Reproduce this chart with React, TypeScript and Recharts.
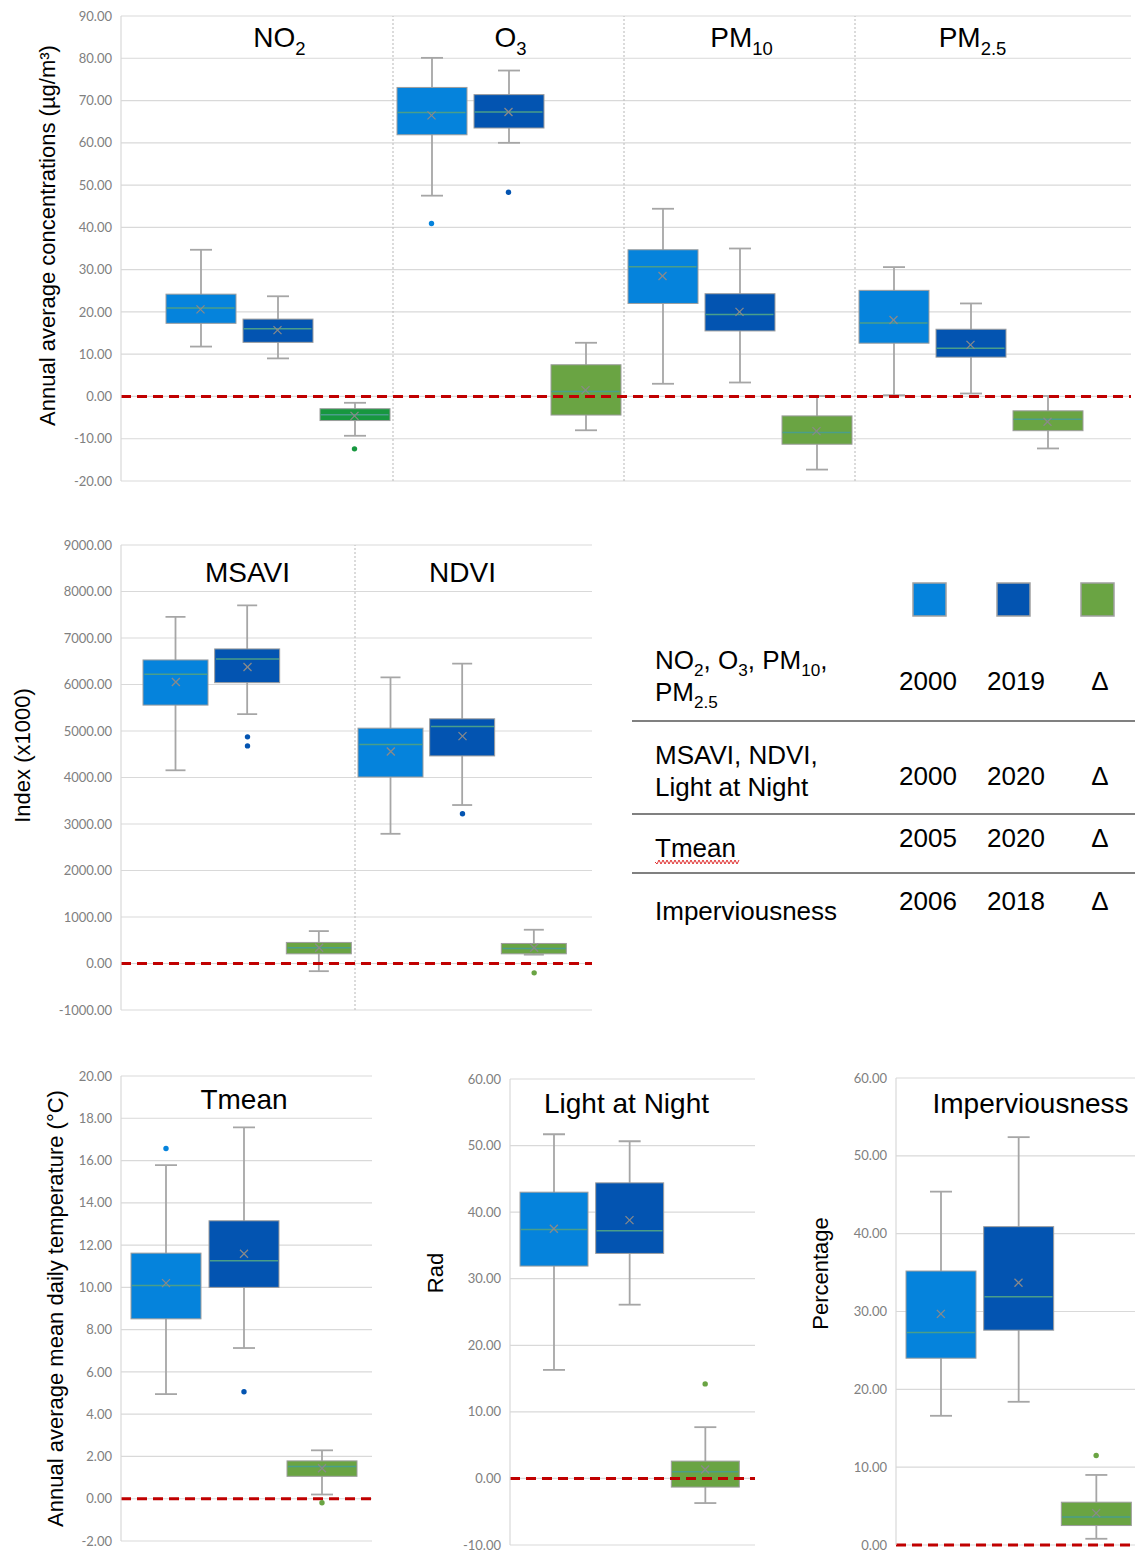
import React from 'react';
import { ComposedChart, Bar, Scatter, XAxis, YAxis, CartesianGrid, ReferenceLine } from 'recharts';

// ------------------------------------------------------------------
// DATA  (each box: [min, q1, median, q3, max, mean])
// ------------------------------------------------------------------
const periods = ['2000', '2019', 'Δ'];

const airTitles = ['NO_{2}', 'O_{3}', 'PM_{10}', 'PM_{2.5}'];
const no2Stats = [
  [11.8, 17.3, 20.9, 24.2, 34.7, 20.6],
  [9.0, 12.8, 16.0, 18.3, 23.7, 15.7],
  [-9.3, -5.7, -4.3, -2.9, -1.5, -4.6],
];
const o3Stats = [
  [47.5, 61.9, 67.2, 73.1, 80.1, 66.5],
  [60.0, 63.5, 67.3, 71.4, 77.1, 67.3],
  [-8.0, -4.4, 1.2, 7.5, 12.7, 1.5],
];
const pm10Stats = [
  [3.0, 22.0, 30.7, 34.7, 44.4, 28.5],
  [3.3, 15.5, 19.4, 24.3, 35.0, 20.0],
  [-17.3, -11.3, -8.5, -4.6, 0.1, -8.2],
];
const pm25Stats = [
  [0.3, 12.6, 17.4, 25.1, 30.6, 18.1],
  [0.7, 9.3, 11.4, 15.9, 22.0, 12.2],
  [-12.3, -8.1, -5.4, -3.4, 0.1, -6.0],
];
const no2Outliers = [[], [], [-12.4]];
const o3Outliers = [[40.9], [48.3], []];
const pm10Outliers = [[], [], []];
const pm25Outliers = [[], [], []];
const airTicks = [-20, -10, 0, 10, 20, 30, 40, 50, 60, 70, 80, 90];

const vegTitles = ['MSAVI', 'NDVI'];
const msaviStats = [
  [4155, 5557, 6218, 6528, 7455, 6053],
  [5363, 6039, 6549, 6765, 7700, 6377],
  [-165, 208, 338, 453, 697, 338],
];
const ndviStats = [
  [2789, 4011, 4709, 5061, 6154, 4558],
  [3408, 4464, 5097, 5262, 6449, 4889],
  [190, 208, 324, 431, 726, 338],
];
const msaviOutliers = [[], [4874, 4680], []];
const ndviOutliers = [[], [3221], [-201]];
const vegTicks = [-1000, 0, 1000, 2000, 3000, 4000, 5000, 6000, 7000, 8000, 9000];

const tmeanTitle = 'Tmean';
const tmeanStats = [
  [4.95, 8.51, 10.09, 11.62, 15.78, 10.2],
  [7.13, 10.0, 11.26, 13.15, 17.57, 11.59],
  [0.2, 1.06, 1.52, 1.79, 2.29, 1.44],
];
const tmeanOutliers = [[16.57], [5.06], [-0.19]];
const tmeanTicks = [-2, 0, 2, 4, 6, 8, 10, 12, 14, 16, 18, 20];

const lightTitle = 'Light at Night';
const lightStats = [
  [16.3, 31.9, 37.4, 43.0, 51.7, 37.5],
  [26.1, 33.8, 37.2, 44.4, 50.65, 38.8],
  [-3.7, -1.3, 1.0, 2.6, 7.7, 1.35],
];
const lightOutliers = [[], [], [14.2]];
const lightTicks = [-10, 0, 10, 20, 30, 40, 50, 60];

const impervTitle = 'Imperviousness';
const impervStats = [
  [16.6, 24.0, 27.3, 35.2, 45.4, 29.7],
  [18.4, 27.6, 31.9, 40.9, 52.4, 33.7],
  [0.8, 2.5, 3.6, 5.5, 9.0, 4.1],
];
const impervOutliers = [[], [], [11.5]];
const impervTicks = [0, 10, 20, 30, 40, 50, 60];

const airYLabel = 'Annual average concentrations (µg/m³)';
const vegYLabel = 'Index (x1000)';
const tmeanYLabel = 'Annual average mean daily temperature (°C)';
const lightYLabel = 'Rad';
const impervYLabel = 'Percentage';

const legendRowLabels = [
  ['NO_{2}, O_{3}, PM_{10},', 'PM_{2.5}'],
  ['MSAVI, NDVI,', 'Light at Night'],
  ['Tmean'],
  ['Imperviousness'],
];
const legendRowYears = [
  ['2000', '2019', 'Δ'],
  ['2000', '2020', 'Δ'],
  ['2005', '2020', 'Δ'],
  ['2006', '2018', 'Δ'],
];

// ------------------------------------------------------------------
// STYLE
// ------------------------------------------------------------------
const PERIOD_COLORS = ['#0583DC', '#0354B1', '#6AA443'];
const NO2_DELTA_COLOR = '#17973F';
const WHISKER = '#a6a6a6';
const GRID = '#d9d9d9';
const MEDIAN = '#4a9e8a';
const MEAN = '#8a8a8a';
const SANS = '"Liberation Sans", Arial, sans-serif';

function parseSegs(s: string) {
  const out: { t: string; sub: boolean }[] = [];
  const re = /_\{([^}]*)\}/g;
  let last = 0;
  let m: RegExpExecArray | null;
  while ((m = re.exec(s))) {
    if (m.index > last) out.push({ t: s.slice(last, m.index), sub: false });
    out.push({ t: m[1], sub: true });
    last = m.index + m[0].length;
  }
  if (last < s.length) out.push({ t: s.slice(last), sub: false });
  return out;
}

function RichTspans({ text, size }: { text: string; size: number }) {
  const segs = parseSegs(text);
  const shift = size * 0.27;
  let prevSub = false;
  return (
    <>
      {segs.map((sg, i) => {
        let dy = 0;
        if (sg.sub && !prevSub) dy = shift;
        if (!sg.sub && prevSub) dy = -shift;
        prevSub = sg.sub;
        return (
          <tspan key={i} dy={dy} fontSize={sg.sub ? size * 0.66 : size}>
            {sg.t}
          </tspan>
        );
      })}
    </>
  );
}

function AxisTitle(props: any) {
  const vb = props.viewBox || {};
  const cy = (vb.y ?? 0) + (vb.height ?? 0) / 2 + props.dyy;
  const cx = (vb.x ?? 0) + props.x0;
  return (
    <text
      x={cx}
      y={cy}
      transform={`rotate(-90 ${cx} ${cy})`}
      textAnchor="middle"
      dominantBaseline="central"
      fontSize={22}
      fontFamily={SANS}
      fill="#000"
    >
      {props.text}
    </text>
  );
}

function TitleText(props: any) {
  const vb = props.viewBox || {};
  const x = (vb.x ?? 0) + props.dxx;
  const y = (vb.y ?? 0) + props.dyy;
  return (
    <text x={x} y={y} textAnchor="middle" fontSize={28} fontFamily={SANS} fill="#000">
      <RichTspans text={props.text} size={28} />
    </text>
  );
}

function WhiskerShape(p: any) {
  const { x, y, width, height, cap } = p;
  if (![x, y, width, height].every((v) => Number.isFinite(v))) return <g />;
  const top = Math.min(y, y + height);
  const bot = Math.max(y, y + height);
  const cx = x + width / 2;
  return (
    <g>
      <line x1={cx} x2={cx} y1={top} y2={bot} stroke={WHISKER} strokeWidth={1.8} />
      <line x1={cx - cap / 2} x2={cx + cap / 2} y1={top} y2={top} stroke={WHISKER} strokeWidth={1.8} />
      <line x1={cx - cap / 2} x2={cx + cap / 2} y1={bot} y2={bot} stroke={WHISKER} strokeWidth={1.8} />
    </g>
  );
}

function BoxShape(p: any) {
  const { x, y, width, height } = p;
  if (![x, y, width, height].every((v) => Number.isFinite(v))) return <g />;
  const color = (p.payload && p.payload.color) || p.color;
  const top = Math.min(y, y + height);
  return (
    <rect x={x} y={top} width={width} height={Math.abs(height)} fill={color} stroke="#9d9d9d" strokeWidth={1} />
  );
}

function MedianShape(p: any) {
  const { cx, cy, half } = p;
  if (!Number.isFinite(cx) || !Number.isFinite(cy)) return <g />;
  return <line x1={cx - half + 1} x2={cx + half - 1} y1={cy} y2={cy} stroke={MEDIAN} strokeWidth={1.5} />;
}

function MeanShape(p: any) {
  const { cx, cy } = p;
  if (!Number.isFinite(cx) || !Number.isFinite(cy)) return <g />;
  const a = 4;
  return (
    <g stroke={MEAN} strokeWidth={1.3}>
      <line x1={cx - a} x2={cx + a} y1={cy - a} y2={cy + a} />
      <line x1={cx - a} x2={cx + a} y1={cy + a} y2={cy - a} />
    </g>
  );
}

function OutlierShape(p: any) {
  const { cx, cy, payload, k } = p;
  if (!payload || payload[k] == null || !Number.isFinite(cx) || !Number.isFinite(cy)) return <g />;
  return <circle cx={cx} cy={cy} r={2.7} fill={payload.color} />;
}

type Group = { title: string; stats: number[][]; outliers: number[][]; colors: string[] };

function BoxPanel(props: any) {
  const {
    groups, left, top, width, height, margin, yAxisWidth, domain, ticks,
    padLeft, padRight, barSize, capWidth, yLabel, yLabelX, yLabelDy, titleDy, titleDx = 0,
  } = props;
  const rows: any[] = [];
  (groups as Group[]).forEach((g, gi) => {
    g.stats.forEach((s, pi) => {
      const outs = g.outliers[pi] || [];
      rows.push({
        cat: `${gi}-${pi}`,
        whisk: [s[0], s[4]],
        box: [s[1], s[3]],
        median: s[2],
        mean: s[5],
        out0: outs.length > 0 ? outs[0] : null,
        out1: outs.length > 1 ? outs[1] : null,
        color: g.colors[pi],
      });
    });
  });
  const nPer = periods.length;
  const half = barSize / 2;
  return (
    <div style={{ position: 'absolute', left, top, width, height }}>
      <ComposedChart width={width} height={height} data={rows} margin={margin}>
        <CartesianGrid vertical={false} stroke={GRID} strokeWidth={1.2} />
        <XAxis dataKey="cat" hide padding={{ left: padLeft, right: padRight }} />
        <XAxis xAxisId="box" dataKey="cat" hide padding={{ left: padLeft, right: padRight }} />
        <YAxis
          type="number"
          domain={domain}
          ticks={ticks}
          interval={0}
          allowDataOverflow
          width={yAxisWidth}
          axisLine={{ stroke: GRID, strokeWidth: 1.2 }}
          tickLine={false}
          tickSize={0}
          tickMargin={9}
          tick={{ fill: '#808080', fontSize: 13, fontFamily: 'Lato, sans-serif' }}
          tickFormatter={(v: number) => Number(v).toFixed(2)}
          label={(lp: any) => <AxisTitle {...lp} text={yLabel} x0={yLabelX} dyy={yLabelDy} />}
        />
        {groups.slice(0, -1).map((_: Group, gi: number) => (
          <ReferenceLine
            key={'sep' + gi}
            x={`${gi}-${nPer - 1}`}
            position="end"
            stroke="#c4c4c4"
            strokeDasharray="2 2"
            strokeWidth={1.2}
          />
        ))}
        {groups.map((g: Group, gi: number) => (
          <ReferenceLine
            key={'title' + gi}
            x={`${gi}-1`}
            stroke="none"
            label={(lp: any) => <TitleText {...lp} text={g.title} dxx={titleDx} dyy={titleDy} />}
          />
        ))}
        <Bar
          dataKey="whisk"
          barSize={barSize}
          isAnimationActive={false}
          shape={(p: any) => <WhiskerShape {...p} cap={capWidth} />}
        />
        <Bar
          xAxisId="box"
          dataKey="box"
          barSize={barSize}
          isAnimationActive={false}
          shape={(p: any) => <BoxShape {...p} />}
        />
        <Scatter dataKey="median" isAnimationActive={false} shape={(p: any) => <MedianShape {...p} half={half} />} />
        <Scatter dataKey="mean" isAnimationActive={false} shape={(p: any) => <MeanShape {...p} />} />
        <Scatter dataKey="out0" isAnimationActive={false} shape={(p: any) => <OutlierShape {...p} k="out0" />} />
        <Scatter dataKey="out1" isAnimationActive={false} shape={(p: any) => <OutlierShape {...p} k="out1" />} />
        <ReferenceLine y={0} stroke="#C00000" strokeWidth={3} strokeDasharray="10 6" />
      </ComposedChart>
    </div>
  );
}

function LegendTable() {
  const squareX = [313, 397, 481];
  const yearX = [328, 416, 500];
  const labelBaselines = [[109, 141], [204, 236], [297], [360]];
  const yearBaselines = [130, 225, 287, 350];
  const sepY = [161, 254, 313];
  let squig = 'M55 302';
  for (let xx = 55; xx < 138; xx += 2) squig += ` L${xx + 2} ${((xx - 55) / 2) % 2 === 0 ? 304 : 300}`;
  return (
    <svg style={{ position: 'absolute', left: 600, top: 560 }} width={535} height={380}>
      {PERIOD_COLORS.map((c, i) => (
        <rect key={i} x={squareX[i]} y={23} width={33} height={33} fill={c} stroke="#a0a0a0" strokeWidth={1.5} />
      ))}
      {legendRowLabels.map((lines, r) =>
        lines.map((ln, li) => (
          <text key={`${r}-${li}`} x={55} y={labelBaselines[r][li]} fontSize={26} fontFamily={SANS} fill="#000">
            <RichTspans text={ln} size={26} />
          </text>
        ))
      )}
      {legendRowYears.map((ys, r) =>
        ys.map((yv, ci) => (
          <text key={`y${r}-${ci}`} x={yearX[ci]} y={yearBaselines[r]} textAnchor="middle" fontSize={26} fontFamily={SANS} fill="#000">
            {yv}
          </text>
        ))
      )}
      {sepY.map((y, i) => (
        <line key={i} x1={32} x2={535} y1={y} y2={y} stroke="#808080" strokeWidth={2} />
      ))}
      <path d={squig} fill="none" stroke="#e03030" strokeWidth={1} />
    </svg>
  );
}

const colorsFor = (deltaColor?: string) => [PERIOD_COLORS[0], PERIOD_COLORS[1], deltaColor || PERIOD_COLORS[2]];

export default function App() {
  const airGroups: Group[] = [
    { title: airTitles[0], stats: no2Stats, outliers: no2Outliers, colors: colorsFor(NO2_DELTA_COLOR) },
    { title: airTitles[1], stats: o3Stats, outliers: o3Outliers, colors: colorsFor() },
    { title: airTitles[2], stats: pm10Stats, outliers: pm10Outliers, colors: colorsFor() },
    { title: airTitles[3], stats: pm25Stats, outliers: pm25Outliers, colors: colorsFor() },
  ];
  const vegGroups: Group[] = [
    { title: vegTitles[0], stats: msaviStats, outliers: msaviOutliers, colors: colorsFor() },
    { title: vegTitles[1], stats: ndviStats, outliers: ndviOutliers, colors: colorsFor() },
  ];
  return (
    <div
      style={{
        position: 'absolute', left: 0, top: 0, width: 1135, height: 1553,
        overflow: 'hidden', background: '#fff', fontFamily: SANS,
      }}
    >
      <BoxPanel
        groups={airGroups}
        left={0} top={0} width={1135} height={490}
        margin={{ top: 16, right: 4, bottom: 9, left: 0 }}
        yAxisWidth={121} domain={[-20, 90]} ticks={airTicks}
        padLeft={41} padRight={45} barSize={70} capWidth={22}
        yLabel={airYLabel} yLabelX={47} yLabelDy={-13} titleDy={31} titleDx={2}
      />
      <BoxPanel
        groups={vegGroups}
        left={0} top={530} width={602} height={490}
        margin={{ top: 15, right: 10, bottom: 10, left: 0 }}
        yAxisWidth={121} domain={[-1000, 9000]} ticks={vegTicks}
        padLeft={19} padRight={22} barSize={65} capWidth={20}
        yLabel={vegYLabel} yLabelX={22} yLabelDy={-22} titleDy={37}
      />
      <BoxPanel
        groups={[{ title: tmeanTitle, stats: tmeanStats, outliers: tmeanOutliers, colors: colorsFor() }]}
        left={0} top={1060} width={380} height={493}
        margin={{ top: 16, right: 8, bottom: 12, left: 0 }}
        yAxisWidth={121} domain={[-2, 20]} ticks={tmeanTicks}
        padLeft={6} padRight={11} barSize={70} capWidth={22}
        yLabel={tmeanYLabel} yLabelX={55} yLabelDy={0} titleDy={33}
      />
      <BoxPanel
        groups={[{ title: lightTitle, stats: lightStats, outliers: lightOutliers, colors: colorsFor() }]}
        left={400} top={1060} width={360} height={493}
        margin={{ top: 19, right: 5, bottom: 8, left: 0 }}
        yAxisWidth={110} domain={[-10, 60]} ticks={lightTicks}
        padLeft={6} padRight={12} barSize={68} capWidth={22}
        yLabel={lightYLabel} yLabelX={35} yLabelDy={-39} titleDy={34} titleDx={-3}
      />
      <BoxPanel
        groups={[{ title: impervTitle, stats: impervStats, outliers: impervOutliers, colors: colorsFor() }]}
        left={780} top={1060} width={375} height={493}
        margin={{ top: 18, right: 5, bottom: 8, left: 0 }}
        yAxisWidth={116} domain={[0, 60]} ticks={impervTicks}
        padLeft={6} padRight={15} barSize={70} capWidth={22}
        yLabel={impervYLabel} yLabelX={40} yLabelDy={-38} titleDy={35} titleDx={12}
      />
      <LegendTable />
    </div>
  );
}
